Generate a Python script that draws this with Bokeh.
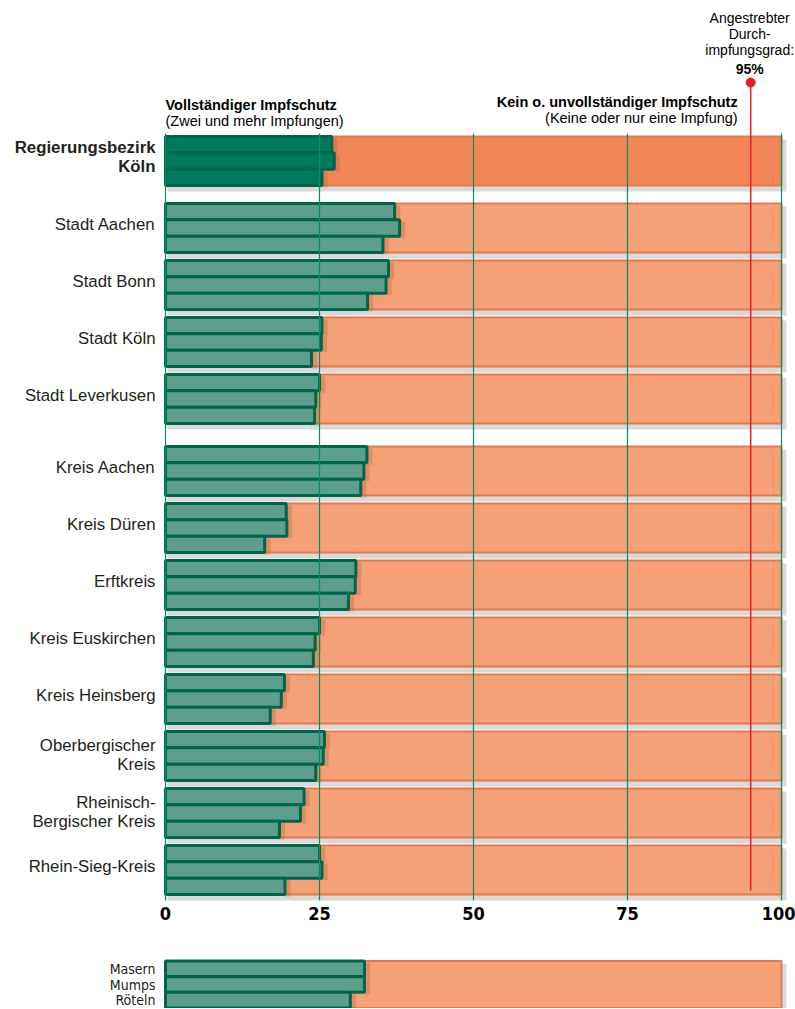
from bokeh.plotting import figure
from bokeh.models import Range1d, FixedTicker
from bokeh.layouts import column
from bokeh.core.properties import value
from bokeh.embed import file_html
from bokeh.resources import INLINE

# ---------------- data ----------------
regions = ["Regierungsbezirk\nKöln", "Stadt Aachen", "Stadt Bonn", "Stadt Köln",
           "Stadt Leverkusen", "Kreis Aachen", "Kreis Düren", "Erftkreis",
           "Kreis Euskirchen", "Kreis Heinsberg", "Oberbergischer\nKreis",
           "Rheinisch-\nBergischer Kreis", "Rhein-Sieg-Kreis"]
masern = [27.0, 37.2, 36.2, 25.4, 25.0, 32.7, 19.6, 30.9, 25.0, 19.3, 25.8, 22.5, 25.0]
mumps = [27.4, 38.0, 35.8, 25.3, 24.4, 32.2, 19.7, 30.8, 24.3, 18.8, 25.6, 21.9, 25.4]
roeteln = [25.4, 35.3, 32.8, 23.7, 24.2, 31.7, 16.1, 29.7, 24.0, 17.0, 24.4, 18.5, 19.4]
total = 100
target = 95
ticks = [0, 25, 50, 75, 100]
legend_labels = ["Masern", "Mumps", "Röteln"]
legend_values = [32.3, 32.3, 30.0]
header_left = ["Vollständiger Impfschutz", "(Zwei und mehr Impfungen)"]
header_right = ["Kein o. unvollständiger Impfschutz", "(Keine oder nur eine Impfung)"]
target_note = ["Angestrebter", "Durch-", "impfungsgrad:"]
target_label = "95%"

# ---------------- layout / style ----------------
W = 795
PX = 6.16           # pixels per percent
ZERO = 165          # canvas x of 0 %
H1, H2 = 938, 70
FRAME1 = 903
GROUP_H = 49.0
SUB_H = GROUP_H / 3
FONT = "Liberation Sans"
NARROW = "DejaVu Sans Condensed"
TXT = "#231f20"
LINE_G = "#00664b"
GRID_G = "#00935f"
GREEN = "#5e9e8c"
GREEN_D = "#007a5c"
ORANGE = "#f6a077"
ORANGE_D = "#f38656"
ORANGE_EDGE = "#e27a50"
RED = "#e41f2b"

xr = Range1d(-ZERO / PX, (W - ZERO) / PX)


def center(i):
    return 160.5 + 57 * i + (10 if i >= 1 else 0) + (15 if i >= 5 else 0)


centers = [center(i) for i in range(len(regions))]

p = figure(width=W, height=H1, x_range=xr, y_range=Range1d(FRAME1, 0),
           output_backend="svg", toolbar_location=None, y_axis_location=None,
           min_border_left=0, min_border_right=0, min_border_top=0,
           min_border_bottom=H1 - FRAME1, outline_line_color=None,
           background_fill_color="white", border_fill_color="white")
p.xgrid.visible = False
p.ygrid.visible = False

ax = p.xaxis[0]
ax.ticker = FixedTicker(ticks=ticks)
ax.axis_line_color = None
ax.major_tick_in = 0
ax.major_tick_out = 0
ax.minor_tick_line_color = None
ax.major_label_text_font = NARROW
ax.major_label_text_font_style = "bold"
ax.major_label_text_font_size = "18px"
ax.major_label_text_color = "black"
ax.major_label_standoff = 3

green_cols = [GREEN_D if i == 0 else GREEN for i in range(len(regions))]
orange_cols = [ORANGE_D if i == 0 else ORANGE for i in range(len(regions))]

# shadows behind orange bars
p.quad(left=[0.3] * len(centers), right=[total + 0.8] * len(centers),
       top=[c - GROUP_H / 2 + 3 for c in centers], bottom=[c + GROUP_H / 2 + 6 for c in centers],
       fill_color="#c0c0c0", fill_alpha=0.6, line_color=None)
# orange (not fully vaccinated) background bars
p.quad(left=[0] * len(centers), right=[total] * len(centers),
       top=[c - GROUP_H / 2 for c in centers], bottom=[c + GROUP_H / 2 for c in centers],
       fill_color=orange_cols, line_color=ORANGE_EDGE, line_width=2)

series = [masern, mumps, roeteln]
for k, vals in enumerate(series):
    ys = [c + (k - 1) * SUB_H for c in centers]
    p.quad(left=vals, right=[v + 0.9 for v in vals],
           top=[y - SUB_H / 2 + 2 for y in ys], bottom=[y + SUB_H / 2 + 2 for y in ys],
           fill_color="#b8653f", fill_alpha=0.35, line_color=None)
    p.hbar(y=ys, left=0, right=vals, height=SUB_H, fill_color=green_cols,
           line_color=LINE_G, line_width=3)

# vertical lines at ticks
p.segment(x0=ticks, x1=ticks, y0=[133] * len(ticks), y1=[900] * len(ticks),
          line_color=GRID_G, line_width=1.2)

# target line
p.segment(x0=[target], x1=[target], y0=[82], y1=[890], line_color=RED, line_width=1.5)
p.scatter(x=[target], y=[82], size=9, fill_color=RED, line_color=RED)

# region labels
single_idx = [i for i in range(1, len(regions)) if "\n" not in regions[i]]
multi_idx = [i for i in range(1, len(regions)) if "\n" in regions[i]]
label_kw = dict(x_offset=-10, text_align="right", text_baseline="middle",
                text_font=value(FONT), text_font_size=value("16.8px"), text_color=TXT,
                text_line_height=0.95)
p.text(x=[0] * len(single_idx), y=[centers[i] for i in single_idx],
       text=[regions[i] for i in single_idx], y_offset=-4, **label_kw)
p.text(x=[0] * len(multi_idx), y=[centers[i] for i in multi_idx],
       text=[regions[i] for i in multi_idx], y_offset=-1, **label_kw)
p.text(x=[0], y=[centers[0]], text=[regions[0]], y_offset=-4, text_font_style="bold",
       **label_kw)

# headers
p.text(x=[0], y=[104], text=[header_left[0]], text_align="left", text_baseline="middle",
       text_font=value(FONT), text_font_size=value("14.5px"), text_font_style="bold",
       text_color="black")
p.text(x=[0], y=[120], text=[header_left[1]], text_align="left", text_baseline="middle",
       text_font=value(FONT), text_font_size=value("14.5px"), text_color="black")
p.text(x=[target], y=[101], text=[header_right[0]], x_offset=-13, text_align="right",
       text_baseline="middle", text_font=value(FONT), text_font_size=value("14.5px"),
       text_font_style="bold", text_color="black")
p.text(x=[target], y=[117], text=[header_right[1]], x_offset=-13, text_align="right",
       text_baseline="middle", text_font=value(FONT), text_font_size=value("14.5px"),
       text_color="black")

# target annotation
p.text(x=[target] * 3, y=[17, 33, 49], text=target_note, x_offset=-1, text_align="center",
       text_baseline="middle", text_font=value(FONT), text_font_size=value("14px"),
       text_color="black")
p.text(x=[target], y=[68], text=[target_label], x_offset=-1, text_align="center",
       text_baseline="middle", text_font=value(FONT), text_font_size=value("14px"),
       text_font_style="bold", text_color="black")

# ---------------- legend figure ----------------
q = figure(width=W, height=H2, x_range=xr, y_range=Range1d(H2, 0),
           output_backend="svg", toolbar_location=None,
           x_axis_location=None, y_axis_location=None,
           min_border_left=0, min_border_right=0, min_border_top=0, min_border_bottom=0,
           outline_line_color=None, background_fill_color="white", border_fill_color="white")
q.xgrid.visible = False
q.ygrid.visible = False
LG_C = 46.0
LG_H = 47.0
LG_SUB = LG_H / 3
q.quad(left=[0.3], right=[total + 0.8], top=[LG_C - LG_H / 2 + 3], bottom=[LG_C + LG_H / 2 + 6],
       fill_color="#c0c0c0", fill_alpha=0.6, line_color=None)
q.quad(left=[0], right=[total], top=[LG_C - LG_H / 2], bottom=[LG_C + LG_H / 2],
       fill_color=ORANGE, line_color=ORANGE_EDGE, line_width=2)
lys = [LG_C + (k - 1) * LG_SUB for k in range(3)]
q.quad(left=legend_values, right=[v + 0.9 for v in legend_values],
       top=[y - LG_SUB / 2 + 2 for y in lys], bottom=[y + LG_SUB / 2 + 2 for y in lys],
       fill_color="#b8653f", fill_alpha=0.35, line_color=None)
q.hbar(y=lys, left=0, right=legend_values, height=LG_SUB, fill_color=GREEN,
       line_color=LINE_G, line_width=3)
q.text(x=[0] * 3, y=lys, text=legend_labels, x_offset=-10, text_align="right",
       text_baseline="middle", text_font=value(NARROW), text_font_size=value("14px"),
       text_color=TXT)

layout = column(p, q, spacing=0)
open("out.html", "w").write(file_html(layout, INLINE))
